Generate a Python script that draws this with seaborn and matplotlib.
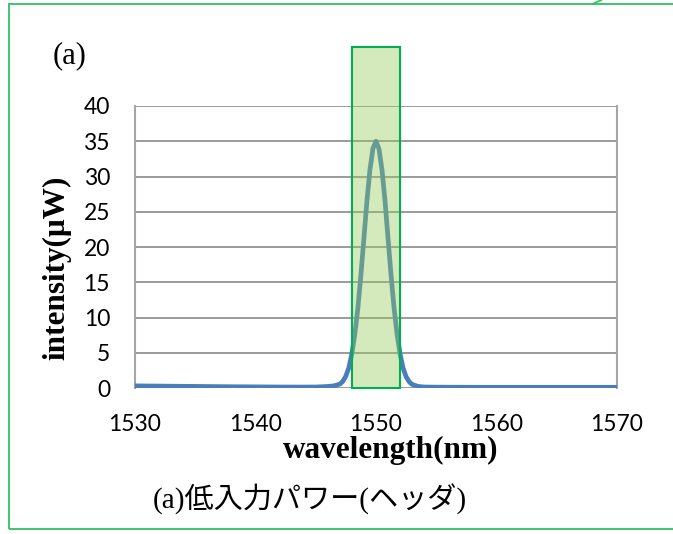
import matplotlib
matplotlib.use("Agg")
import matplotlib.pyplot as plt
from matplotlib.patches import Rectangle
from matplotlib.colors import to_rgba
import seaborn as sns

# spectrum
wavelength = [1530, 1532, 1534, 1536, 1538, 1540, 1542, 1544, 1545, 1546,
              1546.5, 1547, 1547.25, 1547.5, 1547.75, 1548, 1548.25, 1548.5,
              1548.75, 1549, 1549.25, 1549.5, 1549.75, 1550, 1550.25, 1550.5,
              1550.75, 1551, 1551.25, 1551.5, 1551.75, 1552, 1552.25, 1552.5,
              1552.75, 1553, 1553.5, 1554, 1555, 1556, 1558, 1560, 1565, 1570]
intensity = [0.30, 0.27, 0.24, 0.21, 0.18, 0.16, 0.14, 0.13, 0.14, 0.22,
             0.30, 0.55, 0.95, 1.7, 2.9, 4.9, 7.7, 11.4, 16.1, 21.3,
             26.6, 31.0, 34.0, 35.0, 33.9, 30.9, 26.5, 21.2, 16.0, 11.3,
             7.6, 4.8, 2.8, 1.6, 0.9, 0.5, 0.22, 0.14, 0.12, 0.11, 0.10, 0.10,
             0.10, 0.10]

# highlighted band
band_start = 1548
band_end = 1552
band_top = 48.4

x_ticks = [1530, 1540, 1550, 1560, 1570]
y_ticks = [0, 5, 10, 15, 20, 25, 30, 35, 40]

sns.set_style("white")
plt.rcParams['font.family'] = ['Lato', 'DejaVu Sans']
plt.rcParams['text.color'] = 'black'
plt.rcParams['axes.labelcolor'] = 'black'

fig = plt.figure(figsize=(6.73, 5.34), dpi=100)
ax = fig.add_axes([0.2006, 0.2734, 0.7162, 0.5281])

sns.lineplot(x=wavelength, y=intensity, ax=ax, color='#4a7ebb', linewidth=3.4, zorder=3)

ax.add_patch(Rectangle((band_start, 0), band_end - band_start, band_top,
                       facecolor=to_rgba('#94ca58', 0.4), edgecolor='#00b050',
                       linewidth=1.5, clip_on=False, zorder=4))

ax.set_xlim(1530, 1570)
ax.set_ylim(0, 40)
ax.set_xticks(x_ticks)
ax.set_yticks(y_ticks)
ax.grid(axis='y', color='#8a8a8a', linewidth=1.2)
ax.grid(axis='x', visible=False)
ax.tick_params(axis='both', length=0, labelsize=16.5, colors='black')
ax.tick_params(axis='y', pad=18)
ax.tick_params(axis='x', pad=19)

for side in ['top', 'bottom']:
    ax.spines[side].set_visible(False)
for side in ['left', 'right']:
    ax.spines[side].set_color('#a6a6a6')
    ax.spines[side].set_linewidth(1.5)

serif = ['Liberation Serif', 'DejaVu Serif']
ax.set_xlabel('wavelength(nm)', family=serif, fontweight='bold', fontsize=22.5,
              va='center', color='black')
ax.xaxis.set_label_coords(0.531, -0.22)
ax.set_ylabel('intensity(μW)', family=serif, fontweight='bold', fontsize=22.5,
              va='center', color='black')
ax.yaxis.set_label_coords(-0.162, 0.426)

fig.text(0.104, 0.895, '(a)', family=serif, fontsize=22, ha='center', va='center',
         color='black')
fig.text(0.461, 0.064, '(a)低入力パワー(ヘッダ)',
         family=['Liberation Serif', 'Noto Sans CJK JP'], fontsize=21,
         ha='center', va='center', color='black')

# outer green frame
fig.patches.append(Rectangle((0.0134, 0.0094), 1.2, 0.983, transform=fig.transFigure,
                             fill=False, edgecolor='#2fbf63', linewidth=1.3))
fig.add_artist(plt.Line2D([0.881, 0.894], [0.993, 1.0], transform=fig.transFigure,
                          color='#2fbf63', linewidth=1.2))

fig.savefig('out.png', dpi=100)
